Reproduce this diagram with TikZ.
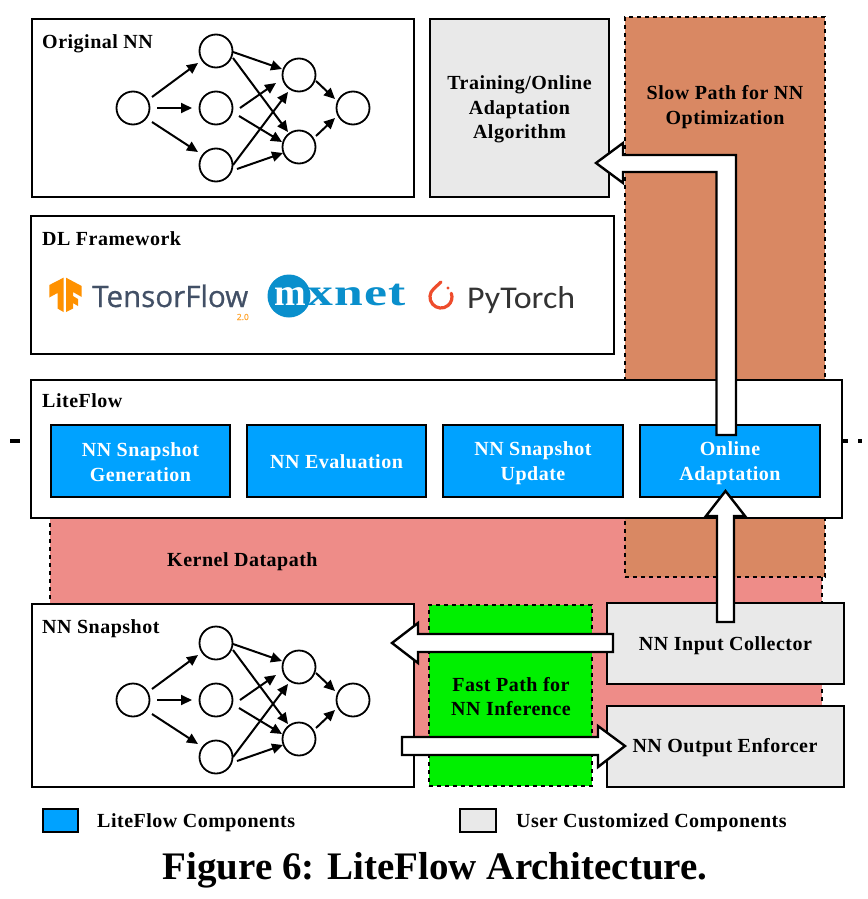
\documentclass[tikz,border=0pt]{standalone}
\usepackage{fontspec}
\usepackage{graphicx}
\setmainfont{Liberation Serif}[LetterSpace=2.5]
\newfontfamily\capfont{Liberation Serif}
\newfontfamily\logofont{Open Sans}[FakeBold=0.7]
\newfontfamily\ptfont{Carlito}
\usetikzlibrary{arrows.meta,calc}
\definecolor{slowc}{HTML}{D98863}
\definecolor{kernc}{HTML}{EE8C88}
\definecolor{bluec}{HTML}{00A2FF}
\definecolor{grayc}{HTML}{E9E9E9}
\definecolor{fastc}{HTML}{00F000}
\definecolor{tfc}{HTML}{FF9100}
\definecolor{tftext}{HTML}{425066}
\definecolor{mxc}{HTML}{0A8FCC}
\definecolor{ptc}{HTML}{EE4C2C}
\tikzset{
  x=1pt,y=-1pt,
  panel/.style={draw=black,line width=2.4pt,fill=white,anchor=north west,inner sep=0pt,outer sep=0pt},
  bluebox/.style={panel,fill=bluec},
  graybox/.style={panel,fill=grayc},
  zone/.style={draw=black,line width=2.4pt,dash pattern=on 4pt off 4pt,anchor=north west,inner sep=0pt,outer sep=0pt},
  boxtext/.style={anchor=center,inner sep=0pt,align=center,font=\bfseries\fontsize{20}{24.7}\selectfont},
  label/.style={anchor=west,inner sep=0pt,font=\bfseries\fontsize{20}{24}\selectfont},
  neuron/.style={circle,draw=black,line width=1.8pt,fill=white,minimum size=33pt,inner sep=0pt,outer sep=0pt},
  syn/.style={draw=black,line width=2pt,-{Triangle[length=11pt,width=10pt]}},
  blockarrow/.style={draw=black,line width=2.4pt,fill=white,line join=miter},
}
\newcommand{\nnet}[1]{%
  \begin{scope}[shift={(0,#1)}]
  \node[neuron] (i) at (133,108) {};
  \node[neuron] (ma) at (216,51) {};
  \node[neuron] (mb) at (216,108) {};
  \node[neuron] (mc) at (216,165) {};
  \node[neuron] (ha) at (299,75) {};
  \node[neuron] (hb) at (299,147) {};
  \node[neuron] (o) at (353,108) {};
  \draw[syn] ($(i)+(19,-11)$) -- ($(ma)+(-18,12)$);
  \draw[syn] ($(i)+(24,0)$) -- ($(mb)+(-24,0)$);
  \draw[syn] ($(i)+(19,14)$) -- ($(mc)+(-18,-13)$);
  \draw[syn] ($(ma)+(17,1)$) -- ($(ha)+(-17,-6)$);
  \draw[syn] ($(ma)+(17,7)$) -- ($(hb)+(-11,-15)$);
  \draw[syn] ($(mb)+(24,0)$) -- ($(ha)+(-23,8)$);
  \draw[syn] ($(mb)+(23,8)$) -- ($(hb)+(-17,-5)$);
  \draw[syn] ($(mc)+(17,0)$) -- ($(ha)+(-11,17)$);
  \draw[syn] ($(mc)+(21,4)$) -- ($(hb)+(-16,6)$);
  \draw[syn] ($(ha)+(17,6)$) -- ($(o)+(-18,-9)$);
  \draw[syn] ($(hb)+(17,-11)$) -- ($(o)+(-18,10)$);
  \end{scope}}
\begin{document}
\begin{tikzpicture}
\useasboundingbox (0,0) rectangle (867,899);
% horizontal kernel/user separator
\coordinate (sepl) at (10,441);
\coordinate (sepr) at (862,441);
\draw[line width=3.5pt,dash pattern=on 10pt off 10pt on 818pt off 10pt on 4pt] (sepl) -- (sepr);
% zones
\node[zone,fill=kernc,minimum width=772pt,minimum height=235pt] (kernel) at (50,510) {};
\node[zone,fill=slowc,minimum width=200pt,minimum height=560pt] (slow) at (625,17) {};
\node[boxtext] (slowt) at (725,107) {Slow Path for NN\\Optimization};
\node[label] (kernt) at (167,562) {Kernel Datapath};
% top row
\node[panel,minimum width=382pt,minimum height=178pt] (orig) at (32,19) {};
\node[label] (origt) at (42,43.5) {Original NN};
\nnet{0}
\node[graybox,minimum width=179pt,minimum height=178pt] (train) at (430,19) {};
\node[boxtext] (traint) at (519.5,109.5) {Training/Online\\Adaptation\\Algorithm};
% DL framework
\node[panel,minimum width=583pt,minimum height=138pt] (dl) at (31,216) {};
\node[label] (dlt) at (42,238.5) {DL Framework};
% TensorFlow logo
\fill[tfc] (49.3,285) -- (63.5,277.7) -- (63.5,312) -- (57.5,308.5) -- (57.5,293) -- (49.3,297.5) -- cycle;
\fill[tfc] (66,277.7) -- (81.7,286) -- (81.7,297) -- (73,292) -- (73,296) -- (78,299) -- (78,306) -- (73,303) -- (73,308.5) -- (66,312) -- cycle;
\node[anchor=base west,inner sep=0pt,text=tftext,font=\logofont] (tf) at (92,307) {\resizebox{156pt}{!}{TensorFlow}};
\node[anchor=east,inner sep=0pt,text=tfc!80,font=\logofont\fontsize{8.5}{8.5}\selectfont] (tfv) at (249,317) {2.0};
% mxnet logo
\fill[mxc] (289,296) circle[radius=21.5];
\node[anchor=base west,inner sep=0pt,text=white,font=\bfseries\fontsize{38}{38}\selectfont] (mxm) at (274,305) {m};
\node[anchor=base west,inner sep=0pt,text=mxc,font=\bfseries\fontsize{38}{38}\selectfont] (mxr) at (307,305) {\scalebox{1.36}[1]{xnet}};
% PyTorch logo
\draw[ptc,line width=3.2pt,line cap=round] (441,282) -- (433.9,288.6) arc[start angle=230,end angle=-20,radius=11];
\fill[ptc] (448,288) circle[radius=1.7];
\node[anchor=base west,inner sep=0pt,text=black!80,font=\ptfont] (pt) at (467,308) {\resizebox{108pt}{22pt}{PyTorch}};
% LiteFlow
\node[panel,minimum width=811pt,minimum height=138pt] (lite) at (31,380) {};
\node[label] (litet) at (42,401) {LiteFlow};
\node[bluebox,minimum width=179pt,minimum height=72pt] (gen) at (51,425) {};
\node[boxtext,text=white] (gent) at (140.5,462.5) {NN Snapshot\\Generation};
\node[bluebox,minimum width=179pt,minimum height=72pt] (eval) at (247,425) {};
\node[boxtext,text=white] (evalt) at (336.5,462) {NN Evaluation};
\node[bluebox,minimum width=180pt,minimum height=72pt] (upd) at (443,425) {};
\node[boxtext,text=white] (updt) at (533,463) {NN Snapshot\\Update};
\node[bluebox,minimum width=180pt,minimum height=72pt] (online) at (640,425) {};
\node[boxtext,text=white] (onlinet) at (730,463) {Online\\Adaptation};
% bottom row
\node[panel,minimum width=382pt,minimum height=183pt] (snap) at (32,604) {};
\node[label] (snapt) at (42,629) {NN Snapshot};
\nnet{592}
\node[zone,fill=fastc,minimum width=163pt,minimum height=181pt] (fast) at (429,605) {};
\node[boxtext] (fastt) at (511,696.5) {Fast Path for\\NN Inference};
\node[graybox,minimum width=237pt,minimum height=81pt] (input) at (607,603) {};
\node[boxtext] (inputt) at (725.5,646) {NN Input Collector};
\node[graybox,minimum width=237pt,minimum height=81pt] (output) at (607,706) {};
\node[boxtext] (outputt) at (725,748) {NN Output Enforcer};
% block arrows
\draw[blockarrow] (716.5,435) -- (716.5,172) -- (623,172) -- (623,183) -- (596,163) -- (623,143) -- (623,155) -- (736,155) -- (736,435) -- cycle;
\draw[blockarrow] (717,622) -- (717,516) -- (706,516) -- (725.5,491) -- (745,516) -- (734,516) -- (734,622) -- cycle;
\draw[blockarrow] (613,634) -- (418,634) -- (418,623) -- (392,643) -- (418,663) -- (418,652) -- (613,652) -- cycle;
\draw[blockarrow] (402,737) -- (598,737) -- (598,726) -- (625,746) -- (598,767) -- (598,755) -- (402,755) -- cycle;
% legend
\node[panel,fill=bluec,minimum width=35pt,minimum height=23pt] (legb) at (43,809) {};
\node[label] (legbt) at (97,823) {LiteFlow Components};
\node[panel,fill=grayc,minimum width=36pt,minimum height=23pt] (legg) at (460,809) {};
\node[label] (leggt) at (516,823) {User Customized Components};
\node[anchor=center,inner sep=0pt,font=\capfont\bfseries\fontsize{39}{41}\selectfont] (caption) at (435,870) {Figure 6: LiteFlow Architecture.};
\end{tikzpicture}
\end{document}
